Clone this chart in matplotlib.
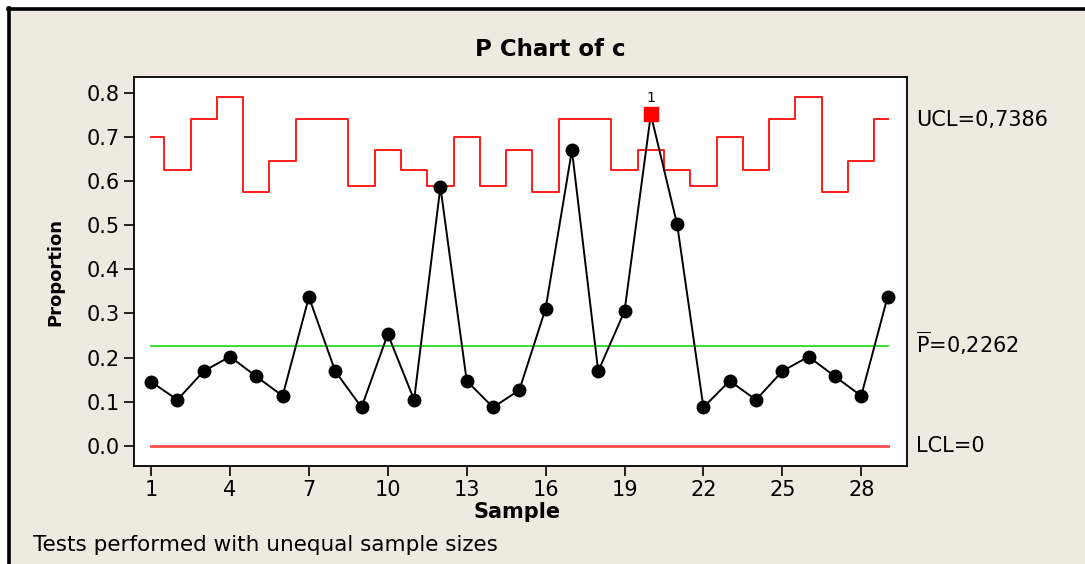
import matplotlib.pyplot as plt
import numpy as np
from matplotlib.lines import Line2D

# sample numbers and observed proportions
samples = np.arange(1, 30)
proportion = [0.145, 0.104, 0.169, 0.202, 0.157, 0.113, 0.337, 0.169, 0.087, 0.253,
              0.104, 0.587, 0.147, 0.087, 0.126, 0.311, 0.670, 0.169, 0.305, 0.751,
              0.502, 0.087, 0.147, 0.104, 0.169, 0.202, 0.157, 0.113, 0.337]
# upper control limit per sample (unequal sample sizes)
ucl = [0.701, 0.625, 0.741, 0.790, 0.576, 0.646, 0.741, 0.741, 0.589, 0.671,
       0.626, 0.589, 0.701, 0.589, 0.671, 0.576, 0.741, 0.741, 0.626, 0.671,
       0.626, 0.589, 0.701, 0.626, 0.741, 0.790, 0.576, 0.646, 0.741]
pbar = 0.2262
lcl = 0.0
ucl_label = "UCL=0,7386"
pbar_label = r"$\overline{\mathrm{P}}$=0,2262"
lcl_label = "LCL=0"
flagged = [20]  # points failing test 1
xticks = [1, 4, 7, 10, 13, 16, 19, 22, 25, 28]
yticks = [0.0, 0.1, 0.2, 0.3, 0.4, 0.5, 0.6, 0.7, 0.8]

bg = '#eeeae0'
fig = plt.figure(figsize=(10.85, 5.64), dpi=100)
fig.patch.set_facecolor('white')

# beige panel with a heavy frame on top and left
panel = plt.Rectangle((8 / 1085, 0), 1, 1 - 8 / 564, transform=fig.transFigure,
                      facecolor=bg, edgecolor='none', zorder=-10)
fig.add_artist(panel)
fig.add_artist(Line2D([8 / 1085, 1], [1 - 8.5 / 564] * 2, transform=fig.transFigure,
                      color='black', lw=2.6, zorder=-5))
fig.add_artist(Line2D([8.5 / 1085] * 2, [0, 1 - 8 / 564], transform=fig.transFigure,
                      color='black', lw=2.6, zorder=-5))

ax = fig.add_axes([134 / 1085, 1 - 466 / 564, (907 - 134) / 1085, (466 - 77) / 564])
ax.set_facecolor('white')

ax.step(samples, ucl, where='mid', color='#ff1a1a', lw=1.4, zorder=2)
ax.plot([samples[0], samples[-1]], [pbar, pbar], color='#22dd22', lw=1.3, zorder=2)
ax.plot([samples[0], samples[-1]], [lcl, lcl], color='#ff4a4a', lw=2.0, zorder=2)

ax.plot(samples, proportion, color='black', lw=1.4, marker='o', markersize=9,
        markerfacecolor='black', zorder=3)
for s in flagged:
    ax.plot(s, proportion[s - 1], marker='s', color='#ff0000', markersize=9.5,
            linestyle='none', zorder=4)
    ax.text(s, proportion[s - 1] + 0.022, '1', ha='center', va='bottom', fontsize=10)

ax.set_xlim(0.35, 29.74)
ax.set_ylim(-0.046, 0.836)
ax.set_xticks(xticks)
ax.set_yticks(yticks)
ax.set_yticklabels([f'{v:.1f}' for v in yticks])
ax.tick_params(direction='out', length=7, width=1.2, labelsize=15, pad=3)
for sp in ax.spines.values():
    sp.set_linewidth(1.3)

fig.text(550 / 1085, 1 - 50 / 564, 'P Chart of c', fontsize=16.5, fontweight='bold',
         ha='center', va='center')
ax.set_xlabel('Sample', fontsize=15, fontweight='bold', labelpad=0)
ax.set_ylabel('Proportion', fontsize=13, fontweight='bold', labelpad=16)
ax.xaxis.set_label_coords((517 - 134) / (907 - 134), -(502 - 466) / (466 - 77))

# limit labels on the right
for val, lab, dy in [(0.7386, ucl_label, 0), (pbar, pbar_label, 3), (lcl, lcl_label, 0)]:
    ax.annotate(lab, xy=(1, val), xycoords=('axes fraction', 'data'),
                xytext=(9, dy), textcoords='offset pixels', ha='left', va='center',
                fontsize=15, annotation_clip=False)

fig.text(33 / 1085, 1 - 545 / 564, 'Tests performed with unequal sample sizes',
         fontsize=15.5, ha='left', va='center')

fig.savefig('out.png', dpi=100, facecolor=fig.get_facecolor())
